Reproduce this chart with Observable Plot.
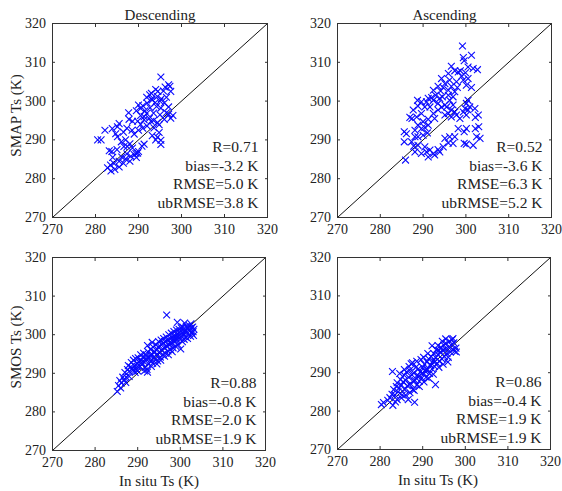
<!DOCTYPE html>
<html><head><meta charset="utf-8">
<script src="https://cdn.jsdelivr.net/npm/d3@7"></script>
<script src="https://cdn.jsdelivr.net/npm/@observablehq/plot@0.6"></script>
<style>
body{margin:0;background:#fff;}
#chart{position:relative;width:562px;height:491px;background:#fff;}
#chart svg{position:absolute;overflow:visible;}
</style></head><body><div id="chart"></div>
<script>
const ticks = [270, 280, 290, 300, 310, 320];
const axisDomain = [270, 320];
const oneToOne = [270, 320];
const titles = ["Descending", "Ascending"];
const yLabels = ["SMAP Ts (K)", "SMOS Ts (K)"];
const xLabel = "In situ Ts (K)";

const statsSmapDesc = ["R=0.71", "bias=-3.2 K", "RMSE=5.0 K", "ubRMSE=3.8 K"];
const statsSmapAsc  = ["R=0.52", "bias=-3.6 K", "RMSE=6.3 K", "ubRMSE=5.2 K"];
const statsSmosDesc = ["R=0.88", "bias=-0.8 K", "RMSE=2.0 K", "ubRMSE=1.9 K"];
const statsSmosAsc  = ["R=0.86", "bias=-0.4 K", "RMSE=1.9 K", "ubRMSE=1.9 K"];

// [in situ Ts, satellite Ts]
const smapDesc = [
[295.2,306.2],[297.0,304.2],[297.3,303.8],[296.2,303.6],[294.0,303.0],[295.8,302.6],[292.6,301.6],[294.4,301.2],[291.9,301.0],[296.5,301.0],
[295.3,300.6],[293.2,300.3],[293.9,299.6],[291.0,298.8],[290.5,298.1],[292.7,298.3],[294.2,298.6],[295.2,298.2],[297.0,298.5],[287.7,297.0],
[291.9,296.8],[293.5,296.9],[295.0,296.5],[297.0,296.6],[298.0,296.3],[290.5,296.3],[291.3,296.0],[287.8,295.3],[288.6,294.8],[289.8,294.8],
[291.3,295.2],[292.9,294.8],[294.4,294.5],[296.0,295.3],[297.5,295.6],[285.5,294.2],[287.3,293.0],[285.1,293.4],[283.9,292.9],[292.0,293.6],
[293.6,293.1],[294.8,293.9],[282.2,292.5],[294.8,291.9],[293.2,291.1],[294.4,290.7],[295.2,289.9],[280.5,290.0],[281.3,290.0],[284.7,291.6],
[285.1,290.8],[287.0,290.0],[287.4,288.3],[286.6,288.3],[291.3,288.9],[290.8,288.4],[288.6,287.9],[289.8,286.6],[289.0,286.2],[283.2,287.2],
[283.8,287.0],[287.3,286.4],[286.1,285.6],[285.5,284.5],[287.0,285.1],[284.3,283.9],[282.8,282.8],[283.6,282.0],[284.5,282.4],[288.2,285.8],
[289.4,286.5],[295.2,288.8],[294.0,290.0],[286.0,289.5],[288.0,289.0],[289.0,291.5],[290.0,292.5],[291.0,293.0],[289.5,297.5],[290.0,299.0],
[292.0,299.5],[293.0,302.0],[294.5,302.5],[296.0,299.5],[296.5,297.0],[292.5,295.5],[293.5,295.0],[291.5,297.5],[290.5,294.0],[286.5,292.0],
[288.5,292.5],[284.0,285.5],[285.0,287.5],[283.5,283.5],[285.5,283.0],[286.5,284.0],[288.0,284.5],[289.5,285.5],[290.0,287.0],[293.0,300.5],
[295.0,300.0],[297.5,302.5]
];
const smapAsc = [
[299.2,314.2],[301.3,311.8],[299.4,311.2],[299.6,310.4],[296.6,309.0],[300.5,308.8],[301.7,308.4],[302.7,308.1],[298.7,307.8],[299.9,307.3],
[299.0,306.4],[297.4,307.8],[295.9,307.1],[294.3,305.8],[296.2,305.4],[297.8,305.0],[299.4,305.4],[300.5,305.8],[295.1,304.5],[296.6,303.8],
[293.5,303.8],[294.7,303.5],[301.3,303.5],[298.0,303.5],[292.4,302.8],[294.1,302.6],[295.9,302.8],[297.4,302.4],[292.9,301.5],[294.5,301.1],
[292.0,300.9],[295.9,301.5],[297.0,301.1],[291.2,300.7],[292.4,300.2],[288.7,300.2],[289.6,299.8],[290.8,299.8],[293.5,299.4],[295.1,299.0],
[288.8,298.7],[290.4,298.5],[300.5,300.2],[300.1,299.4],[300.9,298.5],[299.8,298.1],[294.3,298.4],[295.5,298.5],[296.6,297.7],[297.4,297.2],
[295.9,296.8],[295.1,296.4],[286.9,295.8],[287.4,295.5],[292.4,296.8],[292.7,295.5],[291.2,295.3],[302.1,298.1],[302.9,296.4],[302.2,295.8],
[299.4,297.2],[300.1,296.4],[300.5,297.7],[290.0,294.7],[288.8,293.8],[289.6,292.9],[288.1,292.5],[291.2,293.8],[290.4,293.2],[288.1,290.8],
[288.8,290.8],[290.0,291.2],[291.0,291.8],[285.6,292.1],[286.1,291.6],[285.6,289.5],[285.9,284.8],[298.2,292.9],[300.1,292.9],[299.6,292.1],
[297.4,290.8],[299.6,289.1],[302.5,290.8],[303.3,290.4],[303.0,293.4],[301.7,288.6],[300.1,288.9],[290.4,288.2],[291.6,287.4],[292.4,286.5],
[293.5,287.5],[294.7,288.2],[295.9,289.2],[297.0,289.1],[288.8,288.6],[289.6,286.5],[288.1,286.9],[295.1,290.4],[296.2,290.8],[291.2,285.6],
[292.7,286.1],[290.8,286.9],[302.2,292.9],[296.2,300.2],[297.0,299.0],[297.8,296.4],[298.6,295.5],[296.6,295.9],[293.5,297.7],[291.6,298.5],
[293.9,300.7],[298.2,307.5],[300.1,304.1],[287.7,297.7],[288.5,295.9],[289.6,296.8],[287.3,289.5],[287.8,288.4],[293.9,286.9]
];
const smosDesc = [
[285.2,285.3],[285.5,286.8],[285.8,288.1],[286.2,287.5],[286.5,289.0],[286.8,288.3],[287.0,290.2],[287.3,289.0],[287.6,291.0],[287.8,292.0],
[288.0,290.5],[288.3,291.6],[288.5,292.8],[288.8,291.2],[289.0,293.4],[289.2,292.0],[289.5,293.8],[289.6,291.0],[289.9,292.6],[290.1,294.0],
[290.3,293.0],[290.5,291.8],[290.7,294.8],[290.8,293.4],[291.0,292.2],[291.2,294.2],[291.4,295.2],[291.5,293.0],[291.8,291.5],[292.0,294.6],
[292.1,293.6],[292.3,290.3],[292.4,295.6],[292.6,292.4],[292.8,294.0],[293.0,296.2],[293.1,293.2],[293.3,295.0],[293.5,292.6],[293.6,296.8],
[293.8,294.2],[294.0,295.6],[294.1,293.6],[294.3,297.4],[294.4,294.8],[294.6,296.2],[294.7,293.2],[294.9,298.2],[295.0,295.4],[295.2,297.0],
[295.3,294.2],[295.5,298.6],[295.6,296.0],[295.8,297.6],[295.9,294.8],[296.1,299.0],[296.2,296.6],[296.4,298.2],[296.5,295.2],[296.7,299.4],
[296.8,297.0],[296.8,305.1],[297.0,298.6],[297.1,295.8],[297.3,300.0],[297.4,297.4],[297.6,299.0],[297.7,296.2],[297.9,300.4],[298.0,297.8],
[298.2,299.4],[298.3,296.6],[298.5,300.8],[298.6,298.2],[298.8,299.8],[298.9,297.0],[299.1,301.2],[299.2,298.6],[299.3,303.2],[299.4,300.2],
[299.5,297.4],[299.7,301.4],[299.9,300.6],[300.0,298.8],[300.1,296.3],[300.2,301.8],[300.3,299.6],[300.5,298.2],[300.6,302.0],[300.8,300.2],
[300.9,298.8],[301.1,301.0],[301.2,299.4],[301.4,302.2],[301.5,300.6],[301.7,299.0],[301.8,301.4],[302.0,300.0],[302.1,302.4],[302.3,301.0],
[302.4,299.6],[302.6,301.8],[302.7,300.4],[302.9,302.0],[303.0,300.8],[303.1,299.8],[302.5,302.8],[301.0,303.0],[303.2,301.4],[292.2,291.0],
[291.6,290.6],[290.0,290.6],[289.4,290.2],[288.0,289.2],[287.2,287.6],[286.0,286.2],[293.2,291.8],[294.5,292.4],[295.4,293.4],[296.3,294.4],
[297.2,294.8],[298.1,295.6],[296.0,297.8],[297.5,298.0],[298.4,298.9],[299.6,299.6],[300.7,300.9],[299.0,299.1],[294.8,296.8],[293.9,295.4],
[292.9,294.6],[291.9,293.8],[290.9,292.8],[289.9,291.8],[288.9,290.8],[292.3,297.2],[293.4,298.0]
];
const smosAsc = [
[280.3,281.7],[280.8,282.2],[282.9,290.3],[283.0,281.5],[282.3,283.5],[282.8,284.4],[283.2,285.6],[283.5,284.2],[283.8,286.4],[284.0,287.4],
[284.2,285.0],[284.5,286.0],[284.8,288.2],[285.0,286.8],[285.2,284.2],[285.4,287.6],[285.6,289.4],[285.8,285.6],[286.0,288.0],[286.2,290.2],
[286.4,286.6],[286.6,283.0],[286.7,288.8],[286.9,290.6],[287.1,287.2],[287.3,292.3],[287.5,289.4],[287.7,285.6],[287.9,290.0],[288.1,282.3],
[288.2,288.0],[288.4,291.4],[288.6,286.8],[288.8,289.4],[289.0,291.0],[289.2,287.8],[289.4,290.2],[289.6,293.4],[289.8,288.6],[290.0,291.4],
[290.2,289.6],[290.4,292.2],[290.6,290.4],[290.8,288.8],[291.0,292.8],[291.2,290.8],[291.4,293.6],[291.6,289.8],[291.8,292.0],[292.0,294.2],
[292.2,291.0],[292.4,293.0],[292.6,295.0],[292.8,291.6],[293.0,286.9],[293.0,294.0],[293.2,296.0],[293.4,292.4],[293.6,297.1],[293.7,294.6],
[293.9,293.0],[294.1,295.4],[294.3,296.6],[294.5,293.6],[294.7,295.8],[294.9,297.2],[295.1,294.2],[295.3,296.2],[295.5,297.6],[295.7,295.0],
[295.9,292.8],[296.1,296.6],[296.3,298.2],[296.5,295.4],[296.7,297.2],[296.9,298.6],[297.1,296.0],[297.3,297.8],[297.5,295.6],[297.8,296.4],
[297.9,295.4],[297.1,298.9],[296.0,294.0],[294.8,292.2],[293.8,291.4],[292.5,289.6],[291.4,288.6],[290.3,287.6],[289.2,286.4],[288.0,285.4],
[287.0,284.8],[286.0,284.2],[285.0,283.4],[284.0,283.0],[283.6,282.4],[281.8,282.8],[284.6,289.8],[285.7,290.8],[286.8,291.6],[292.2,297.0],
[291.2,295.0],[290.2,294.0],[288.6,293.0],[287.6,292.6],[295.4,298.8],[294.6,298.2],[293.8,295.8],[292.9,292.9],[291.9,291.9],[290.9,290.9],
[289.9,289.9],[288.9,288.9],[287.9,287.9],[286.9,286.9]
];

const FONT = "'Liberation Serif', 'Times New Roman', serif";

function panel(o) {
  const marks = [
    Plot.frame({stroke: "#333", strokeWidth: 1}),
    Plot.line(oneToOne.map(v => [v, v]), {x: d => d[0], y: d => d[1], stroke: "#111", strokeWidth: 1}),
    Plot.dot(o.data, {x: d => d[0], y: d => d[1], symbol: "times", stroke: "#0a0aff", r: 3.2, strokeWidth: 1.1}),
    Plot.axisX(ticks, {anchor: "bottom", tickSize: 0, tickPadding: 7, fontSize: 14, label: null, fill: "#222"}),
    Plot.axisY(ticks, {anchor: "left", tickSize: 0, tickPadding: 6.5, fontSize: 14, label: null, fill: "#222"}),
    Plot.axisX(ticks, {anchor: "bottom", tickSize: -3, fill: "none", label: null, stroke: "#333"}),
    Plot.axisX(ticks, {anchor: "top", tickSize: -3, fill: "none", label: null, stroke: "#333"}),
    Plot.axisY(ticks, {anchor: "left", tickSize: -3, fill: "none", label: null, stroke: "#333"}),
    Plot.axisY(ticks, {anchor: "right", tickSize: -3, fill: "none", label: null, stroke: "#333"}),
    Plot.text([o.stats.join("\n")], {frameAnchor: "bottom-right", textAnchor: "end", lineAnchor: "bottom", lineHeight: 1.2, fontSize: 15.5, dx: -9, dy: o.statsDy, fill: "#222"})
  ];
  if (o.title) marks.push(Plot.text([o.title], {frameAnchor: "top", lineAnchor: "bottom", dy: -4, fontSize: 15, fill: "#222"}));
  if (o.yLabel) marks.push(Plot.text([o.yLabel], {frameAnchor: "left", rotate: -90, lineAnchor: "middle", textAnchor: "middle", dx: -36, dy: o.yLabelDy, fontSize: 15, fill: "#222"}));
  if (o.xLabel) marks.push(Plot.text([o.xLabel], {frameAnchor: "bottom", lineAnchor: "middle", dy: 31, dx: o.xLabelDx || 0, fontSize: 15, fill: "#222"}));
  const svg = Plot.plot({
    width: o.width, height: o.height,
    marginLeft: o.ml, marginRight: o.mr, marginTop: o.mt, marginBottom: o.mb,
    style: {fontFamily: FONT, fontSize: "14px", background: "transparent", overflow: "visible", color: "#222"},
    x: {domain: axisDomain},
    y: {domain: axisDomain},
    marks
  });
  svg.style.left = o.left + "px";
  svg.style.top = o.top + "px";
  document.getElementById("chart").appendChild(svg);
}

panel({data: smapDesc, stats: statsSmapDesc, title: titles[0], yLabel: yLabels[0], yLabelDy: -5, statsDy: -9.5,
  left: 0, top: 0, width: 281, height: 245, ml: 52, mr: 14, mt: 23, mb: 28});
panel({data: smapAsc, stats: statsSmapAsc, title: titles[1], statsDy: -9.5,
  left: 281, top: 0, width: 281, height: 245, ml: 56, mr: 11, mt: 23, mb: 28});
panel({data: smosDesc, stats: statsSmosDesc, yLabel: yLabels[1], yLabelDy: -7, xLabel: xLabel, statsDy: -6.5,
  left: 0, top: 245, width: 281, height: 246, ml: 52, mr: 16, mt: 12, mb: 41});
panel({data: smosAsc, stats: statsSmosAsc, xLabel: xLabel, xLabelDx: -6, statsDy: -6.5,
  left: 281, top: 245, width: 281, height: 246, ml: 56, mr: 12, mt: 12, mb: 42});
</script></body></html>
